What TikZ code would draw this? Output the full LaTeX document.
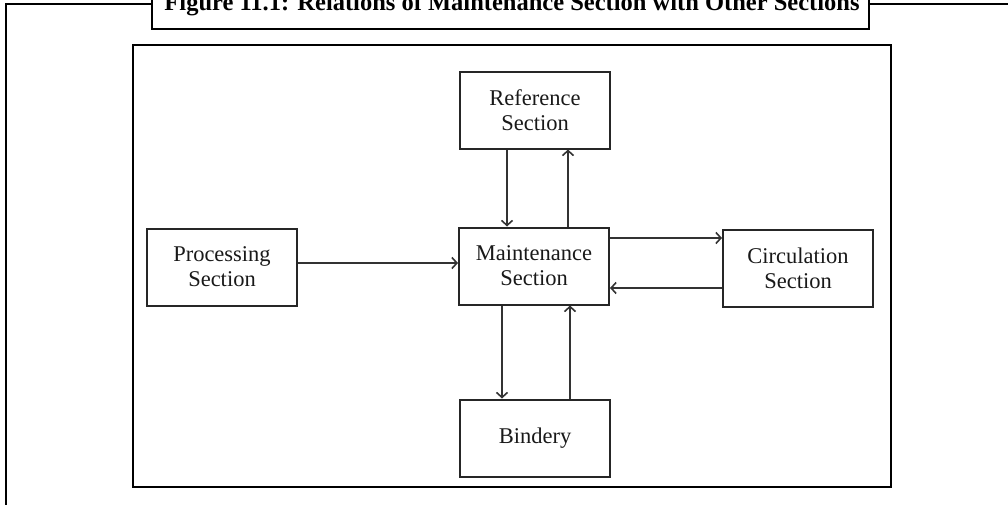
\documentclass[tikz,border=0pt]{standalone}
\usepackage{fontspec}
\setmainfont{Liberation Serif}
\usetikzlibrary{arrows.meta}

\tikzset{
	sectbox/.style={draw=black!85, line width=2pt, minimum width=150pt, minimum height=77pt, align=center, font=\fontsize{22.5}{25}\selectfont, text=black!90, inner sep=0pt},
	flow/.style={line width=2pt, draw=black!80, -{Straight Barb[length=5pt, width=11pt, line width=1.6pt]}}
}

\begin{document}
\begin{tikzpicture}[x=1pt, y=-1pt]
			%%%%% START %%%%%
			\useasboundingbox (0, 0) rectangle (1008, 504);
			
			% outer frame and caption
			\draw[line width=2.5pt] (6, 520) -- (6, 4) -- (1015, 4);
			\draw[line width=2pt, fill=white] (152, -30) rectangle (869, 29);
			\node[anchor=base, font=\bfseries\fontsize{24.5}{28}\selectfont] (caption) at (512, 10) {Figure 11.1: Relations of Maintenance Section with Other Sections};
			
			% picture frame
			\draw[line width=2pt] (133, 45) rectangle (891, 487);
			
			\node[sectbox] (maint) at (534, 266) {Maintenance\\Section};
			\node[sectbox] (ref) at (535, 110) {Reference\\Section};
			\node[sectbox] (proc) at (222, 267) {Processing\\Section};
			\node[sectbox] (circ) at (798, 268) {Circulation\\Section};
			\node[sectbox] (bind) at (535, 438) {Bindery};
			
			\draw[flow] ([yshift=4pt]proc.east) -- ([yshift=4pt]proc.east -| maint.west);
			
			\draw[flow] ([xshift=-28pt]ref.south) -- ([xshift=-28pt]ref.south |- maint.north);
			\draw[flow] ([xshift=34pt]maint.north) -- ([xshift=34pt]maint.north |- ref.south);
			
			\draw[flow] ([yshift=28pt]maint.east) -- ([yshift=28pt]maint.east -| circ.west);
			\draw[flow] ([yshift=-20pt]circ.west) -- ([yshift=-20pt]circ.west -| maint.east);
			
			\draw[flow] ([xshift=-32pt]maint.south) -- ([xshift=-32pt]maint.south |- bind.north);
			\draw[flow] ([xshift=35pt]bind.north) -- ([xshift=35pt]bind.north |- maint.south);
			%%%%% END %%%%%
\end{tikzpicture}
\end{document}
